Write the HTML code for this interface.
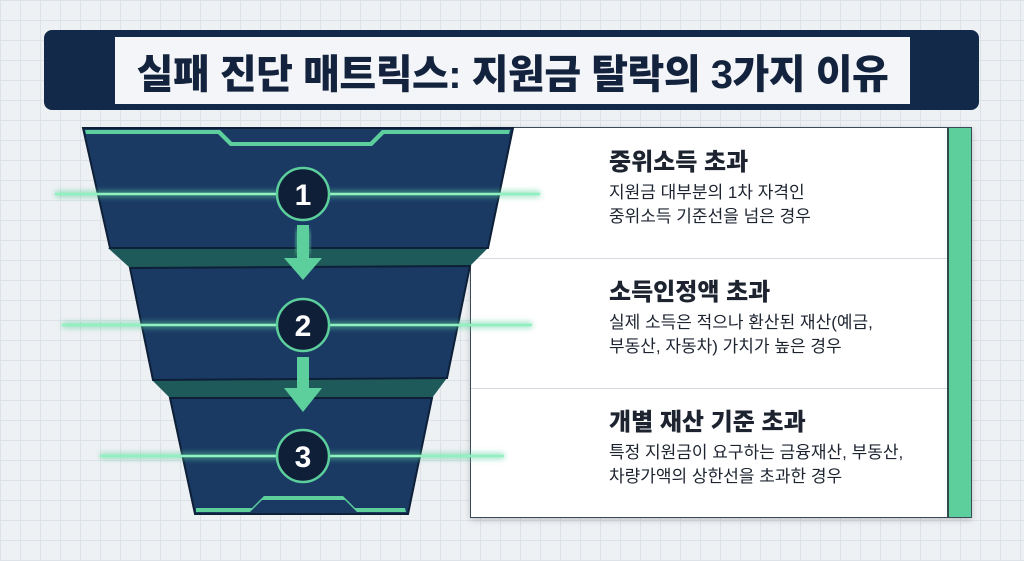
<!DOCTYPE html>
<html><head><meta charset="utf-8"><style>
html,body{margin:0;padding:0}
body{width:1024px;height:561px;overflow:hidden;position:relative;font-family:"Liberation Sans","Noto Sans CJK KR",sans-serif;
background-color:#eef1f4;background-image:linear-gradient(#dde2e8 1px,transparent 1px),linear-gradient(90deg,#dde2e8 1px,transparent 1px);background-size:20px 20px}
.tb{position:absolute;left:44px;top:30px;width:935px;height:80px;background:#13294a;border-radius:8px}
.tw{position:absolute;left:115px;top:37px;width:795px;height:67px;background:#f3f5f8;display:flex;align-items:center;justify-content:center;font-size:40px;font-weight:900;color:#13233d;letter-spacing:-0.5px}
.panel{position:absolute;left:470px;top:127px;width:500px;height:389px;background:#fff;border:1px solid #3b4a5a;box-shadow:0 2px 6px rgba(0,0,0,.2)}
.stripe{position:absolute;right:0;top:0;width:22px;height:100%;background:#5ccf9c;border-left:2px solid #2e4a4a}
.div{position:absolute;left:0;width:476px;height:1px;background:#d4dae0}
.item{position:absolute;left:138px;color:#1d2430;white-space:nowrap}
.item h3{margin:0;font-size:24px;font-weight:800;line-height:30px}
.item p{margin:3px 0 0;font-size:17px;line-height:24px}
svg{position:absolute;left:0;top:0}
</style></head><body>
<div class="tb"></div><div class="tw">실패 진단 매트릭스: 지원금 탈락의 3가지 이유</div>
<div class="panel"><div class="stripe"></div>
<div class="div" style="top:130px"></div><div class="div" style="top:260px"></div>
<div class="item" style="top:20px"><h3>중위소득 초과</h3><p>지원금 대부분의 1차 자격인<br>중위소득 기준선을 넘은 경우</p></div>
<div class="item" style="top:150px"><h3>소득인정액 초과</h3><p>실제 소득은 적으나 환산된 재산(예금,<br>부동산, 자동차) 가치가 높은 경우</p></div>
<div class="item" style="top:280px"><h3>개별 재산 기준 초과</h3><p>특정 지원금이 요구하는 금융재산, 부동산,<br>차량가액의 상한선을 초과한 경우</p></div>
</div>
<svg width="1024" height="561">
<defs><filter id="g" x="-20%" y="-300%" width="140%" height="700%"><feGaussianBlur stdDeviation="3"/></filter></defs>
<polygon points="108,248 488,248 470,266 130,268" fill="#1f5a5a"/>
<polygon points="152,380 447,378 432,398 170,398" fill="#1f5a5a"/>
<polygon points="83,128 513,128 488,248 110,248" fill="#1a3a64" stroke="#0e1f38" stroke-width="2"/>
<polygon points="85,130 220,130 232,142 370,142 382,130 510,130 509,134 384,134 372,146 230,146 218,134 86,134" fill="#5ccf9c"/>
<polygon points="130,268 470,266 447,378 153,380" fill="#1a3a64" stroke="#0e1f38" stroke-width="2"/>
<polygon points="170,398 432,398 408,514 195,514" fill="#1a3a64" stroke="#0e1f38" stroke-width="2"/>
<polygon points="196,512 250,512 262,500 345,500 357,512 406,512 405,508 355,508 343,496 264,496 252,508 196,508" fill="#5ccf9c"/>
<g fill="#5ccf9c">
<rect x="297" y="230" width="12" height="24" filter="url(#g)"/>
<polygon points="297,225 309,225 309,258 322,258 303,280 284,258 297,258"/>
<polygon points="297,357 309,357 309,388 322,388 303,412 284,388 297,388"/>
</g>
<g stroke="#5ccf9c" stroke-width="6" opacity=".6" filter="url(#g)">
<line x1="55" y1="194" x2="540" y2="194"/><line x1="62" y1="325" x2="532" y2="325"/><line x1="100" y1="456" x2="504" y2="456"/></g>
<g stroke="#8ff0c0" stroke-width="2.5">
<line x1="55" y1="194" x2="540" y2="194"/><line x1="62" y1="325" x2="532" y2="325"/><line x1="100" y1="456" x2="504" y2="456"/></g>
<g fill="#0f1f38" stroke="#5ccf9c" stroke-width="2.5">
<circle cx="303" cy="194" r="26"/><circle cx="303" cy="325" r="26"/><circle cx="303" cy="456" r="26"/></g>
<g fill="#fff" font-family="Liberation Sans,sans-serif" font-weight="700" font-size="30" text-anchor="middle">
<text x="303" y="205">1</text><text x="303" y="336">2</text><text x="303" y="467">3</text></g>
</svg>
</body></html>
